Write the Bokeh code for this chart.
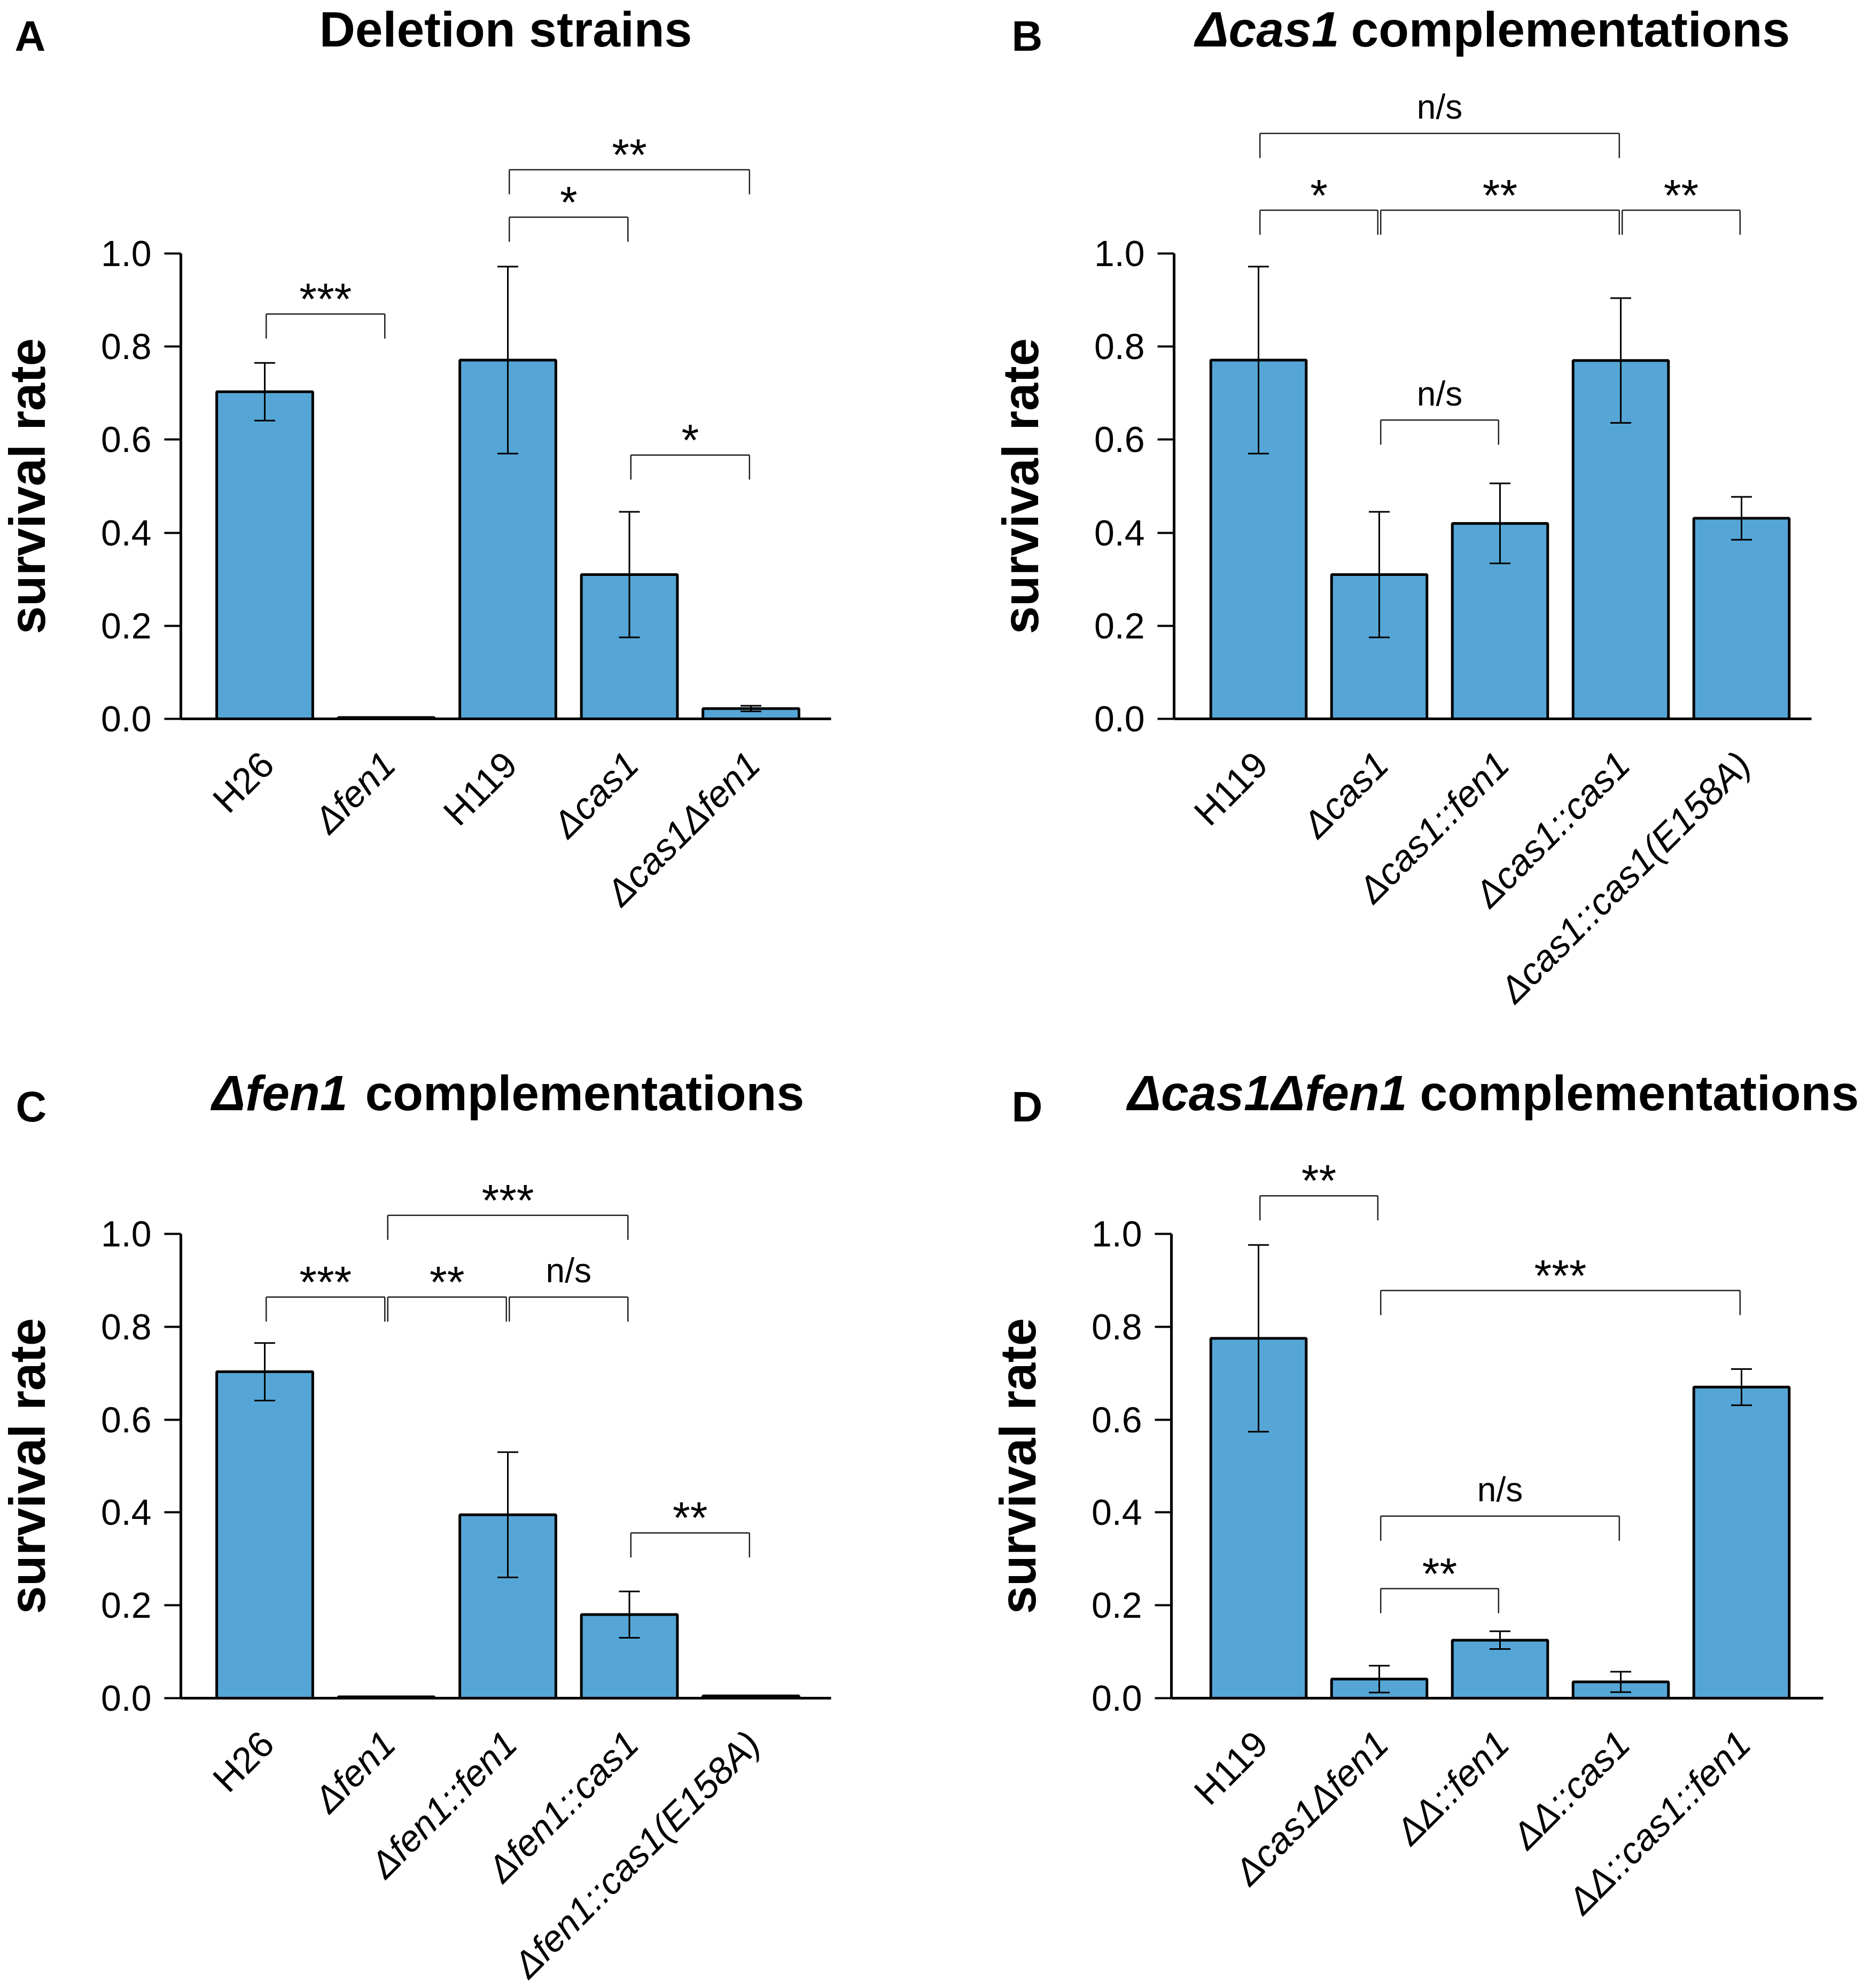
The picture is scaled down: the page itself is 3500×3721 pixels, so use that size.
import math
from bokeh.plotting import figure
from bokeh.models import Range1d, LinearAxis, FixedTicker, PrintfTickFormatter
from bokeh.layouts import column, row
from bokeh.embed import file_html
from bokeh.resources import INLINE
from bokeh.core.properties import value

# ---------------- data ----------------
a_labels = ["H26", "Δfen1", "H119", "Δcas1", "Δcas1Δfen1"]
a_means = [0.703, 0.003, 0.771, 0.310, 0.022]
a_sd = [0.062, 0.0, 0.201, 0.135, 0.006]
a_pairs = [(1, 2), (3, 4), (3, 5), (4, 5)]
a_sig = ["***", "*", "**", "*"]

b_labels = ["H119", "Δcas1", "Δcas1::fen1", "Δcas1::cas1", "Δcas1::cas1(E158A)"]
b_means = [0.771, 0.310, 0.420, 0.770, 0.431]
b_sd = [0.201, 0.135, 0.086, 0.134, 0.046]
b_pairs = [(1, 4), (1, 2), (2, 4), (4, 5), (2, 3)]
b_sig = ["n/s", "*", "**", "**", "n/s"]

c_labels = ["H26", "Δfen1", "Δfen1::fen1", "Δfen1::cas1", "Δfen1::cas1(E158A)"]
c_means = [0.703, 0.003, 0.395, 0.180, 0.005]
c_sd = [0.062, 0.0, 0.135, 0.050, 0.0]
c_pairs = [(1, 2), (2, 3), (3, 4), (2, 4), (4, 5)]
c_sig = ["***", "**", "n/s", "***", "**"]

d_labels = ["H119", "Δcas1Δfen1", "ΔΔ::fen1", "ΔΔ::cas1", "ΔΔ::cas1::fen1"]
d_means = [0.775, 0.041, 0.125, 0.035, 0.670]
d_sd = [0.201, 0.029, 0.019, 0.022, 0.039]
d_pairs = [(1, 2), (2, 5), (2, 4), (2, 3)]
d_sig = ["**", "***", "n/s", "**"]

y_ticks = [0.0, 0.2, 0.4, 0.6, 0.8, 1.0]

# ---------------- layout (page pixels) ----------------
FONT = "Liberation Sans"
BAR_COLOR = "#55A6D6"
SHIFT = 0.40          # em correction for the text baseline
W = 1748
H_TOP, H_BOT = 1960, 1756
ORIG = {"A": (0, 0), "B": (W, 0), "C": (0, H_TOP), "D": (W, H_TOP)}
SIZE = {"A": (W, H_TOP), "B": (W, H_TOP), "C": (W, H_BOT), "D": (W, H_BOT)}
GEOM = {
    "A": dict(c1=495, step=227.5, yaxis=338, xend=1555, y0=1345, y1=474),
    "B": dict(c1=2355, step=226.0, yaxis=2197, xend=3390, y0=1345, y1=474),
    "C": dict(c1=495, step=227.5, yaxis=338, xend=1555, y0=3178, y1=2309),
    "D": dict(c1=2355, step=226.0, yaxis=2192, xend=3412, y0=3178, y1=2309),
}
LEVELS = {
    "A": [0.870, 1.078, 1.180, 0.567],
    "B": [1.258, 1.093, 1.093, 1.093, 0.642],
    "C": [0.864, 0.864, 0.864, 1.040, 0.356],
    "D": [1.082, 0.878, 0.392, 0.236],
}
TITLE_SIZE = 93
TITLES = {
    "A": ([("Deletion strains", "bold", "center", 946)], 92),
    "B": ([("Δcas1", "bold italic", "right", 2506), ("complementations", "bold", "left", 2528)], 92),
    "C": ([("Δfen1", "bold italic", "right", 650), ("complementations", "bold", "left", 683)], 2083),
    "D": ([("Δcas1Δfen1", "bold italic", "right", 2633), ("complementations", "bold", "left", 2657)], 2083),
}
LETTER_SIZE = 80
LETTERS = {"A": (27, 99), "B": (1893, 99), "C": (29, 2103), "D": (1893, 2103)}
STAR_SIZE, NS_SIZE, XLAB_SIZE = 84, 64, 69


def make_panel(key, labels, means, sds, pairs, sig):
    g = GEOM[key]
    ox, oy = ORIG[key]
    pw, ph = SIZE[key]
    step = g["step"]
    ppu = g["y0"] - g["y1"]

    def dx(sx):
        return 1 + (sx - g["c1"]) / step

    def dy(sy):
        return (g["y0"] - sy) / ppu

    p = figure(width=pw, height=ph,
               x_range=Range1d(dx(ox), dx(ox + pw)),
               y_range=Range1d(dy(oy + ph), dy(oy)),
               output_backend="svg", toolbar_location=None,
               x_axis_type=None, y_axis_type=None, min_border=0,
               outline_line_color=None, background_fill_color="white",
               border_fill_color="white")
    p.xgrid.visible = False
    p.ygrid.visible = False

    yax = LinearAxis(fixed_location=dx(g["yaxis"]), bounds=(0, 1),
                     ticker=FixedTicker(ticks=y_ticks),
                     formatter=PrintfTickFormatter(format="%.1f"),
                     axis_label="survival rate")
    yax.axis_line_width = 5
    yax.axis_line_color = "black"
    yax.major_tick_line_width = 4
    yax.major_tick_line_color = "black"
    yax.major_tick_out = 31
    yax.major_tick_in = 0
    yax.minor_tick_line_color = None
    yax.major_label_text_font = FONT
    yax.major_label_text_font_size = "68px"
    yax.major_label_text_color = "black"
    yax.major_label_standoff = 24
    yax.axis_label_text_font = FONT
    yax.axis_label_text_font_size = "94px"
    yax.axis_label_text_font_style = "bold"
    yax.axis_label_text_color = "black"
    yax.axis_label_standoff = 82
    p.add_layout(yax, "left")

    xax = LinearAxis(fixed_location=0, bounds=(dx(g["yaxis"]), dx(g["xend"])),
                     ticker=FixedTicker(ticks=[]))
    xax.axis_line_width = 5
    xax.axis_line_color = "black"
    xax.major_tick_line_color = None
    xax.minor_tick_line_color = None
    xax.major_label_text_font_size = "0px"
    p.add_layout(xax, "below")

    xs = list(range(1, len(labels) + 1))
    p.vbar(x=xs, top=means, bottom=0, width=0.79, fill_color=BAR_COLOR,
           line_color="black", line_width=5)

    # error bars
    ex = [x for x, s in zip(xs, sds) if s > 0]
    lo = [m - s for m, s in zip(means, sds) if s > 0]
    hi = [m + s for m, s in zip(means, sds) if s > 0]
    cw = 19.5 / step
    p.segment(x0=ex, y0=lo, x1=ex, y1=hi, line_color="black", line_width=3)
    p.segment(x0=[x - cw for x in ex], y0=hi, x1=[x + cw for x in ex], y1=hi,
              line_color="black", line_width=3)
    p.segment(x0=[x - cw for x in ex], y0=lo, x1=[x + cw for x in ex], y1=lo,
              line_color="black", line_width=3)

    # significance brackets
    ins = 0.012
    drop = 46 / ppu
    bx0, by0, bx1, by1 = [], [], [], []
    star_x, star_y, star_t, ns_x, ns_y, ns_t = [], [], [], [], [], []
    for (i, j), lev, s in zip(pairs, LEVELS[key], sig):
        a, b = i + ins, j - ins
        bx0 += [a, a, b]
        by0 += [lev, lev, lev]
        bx1 += [b, a, b]
        by1 += [lev, lev - drop, lev - drop]
        if s == "n/s":
            ns_x.append((i + j) / 2)
            ns_y.append(lev + (24 + SHIFT * NS_SIZE) / ppu)
            ns_t.append(s)
        else:
            star_x.append((i + j) / 2)
            star_y.append(lev + (-10 + 0.45 * STAR_SIZE) / ppu)
            star_t.append(s)
    p.segment(x0=bx0, y0=by0, x1=bx1, y1=by1, line_color="#222222", line_width=2.5)
    if star_t:
        p.text(x=star_x, y=star_y, text=star_t, text_font=value(FONT),
               text_font_size=value(f"{STAR_SIZE}px"), text_align="center",
               text_baseline="alphabetic", text_color="black")
    if ns_t:
        p.text(x=ns_x, y=ns_y, text=ns_t, text_font=value(FONT),
               text_font_size=value(f"{NS_SIZE}px"), text_align="center",
               text_baseline="alphabetic", text_color="black")

    # category labels, rotated 45 degrees
    for x, lab in zip(xs, labels):
        style = "italic" if "Δ" in lab else "normal"
        p.text(x=[x + 5 / step], y=[-74 / ppu], text=[lab], angle=math.pi / 4,
               text_font=value(FONT), text_font_size=value(f"{XLAB_SIZE}px"),
               text_font_style=style, text_align="right",
               text_baseline="alphabetic", text_color="black")

    # title
    parts, base = TITLES[key]
    for txt, style, align, sx in parts:
        p.text(x=[dx(sx)], y=[dy(base - SHIFT * TITLE_SIZE)], text=[txt],
               text_font=value(FONT), text_font_size=value(f"{TITLE_SIZE}px"),
               text_font_style=style, text_align=align,
               text_baseline="alphabetic", text_color="black")

    # panel letter
    lx, ly = LETTERS[key]
    p.text(x=[dx(lx)], y=[dy(ly - SHIFT * LETTER_SIZE)], text=[key],
           text_font=value(FONT), text_font_size=value(f"{LETTER_SIZE}px"),
           text_font_style="bold", text_align="left",
           text_baseline="alphabetic", text_color="black")
    return p


pA = make_panel("A", a_labels, a_means, a_sd, a_pairs, a_sig)
pB = make_panel("B", b_labels, b_means, b_sd, b_pairs, b_sig)
pC = make_panel("C", c_labels, c_means, c_sd, c_pairs, c_sig)
pD = make_panel("D", d_labels, d_means, d_sd, d_pairs, d_sig)

layout = column(row(pA, pB), row(pC, pD))
open("out.html", "w").write(file_html(layout, INLINE))
